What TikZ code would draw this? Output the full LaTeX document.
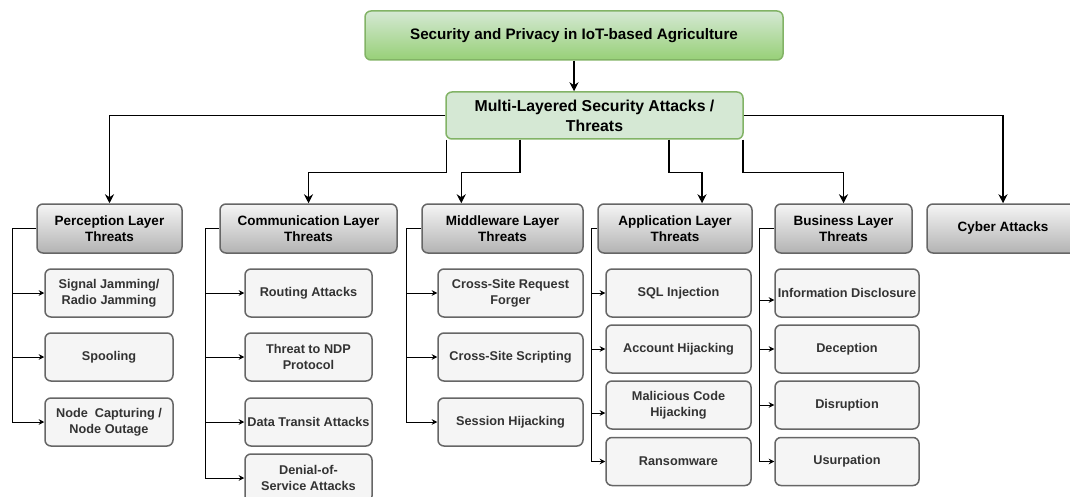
\documentclass[tikz,border=0pt]{standalone}
\usepackage{fontspec}
\setmainfont{Liberation Sans}
\usetikzlibrary{arrows.meta,calc}
\definecolor{gborder}{HTML}{82B366}
\definecolor{gfill}{HTML}{D5E8D4}
\definecolor{gdark}{HTML}{97D077}
\definecolor{kborder}{HTML}{666666}
\definecolor{kfill}{HTML}{F5F5F5}
\definecolor{kdark}{HTML}{B3B3B3}
\definecolor{ktext}{HTML}{333333}
\begin{document}
\begin{tikzpicture}[x=1pt,y=-1pt,
  base/.style={rounded corners=6pt, line width=1.5pt, align=center, inner sep=0pt},
  topbox/.style={base, draw=gborder, top color=gfill, bottom color=gdark,
     font=\fontsize{15.2}{19}\selectfont\bfseries, minimum width=418, minimum height=49},
  mlbox/.style={base, draw=gborder, fill=gfill,
     font=\fontsize{15.8}{20}\selectfont\bfseries, minimum width=297, minimum height=47},
  layerbox/.style={base, draw=kborder, top color=kfill, bottom color=kdark,
     font=\fontsize{13.5}{16.5}\selectfont\bfseries, minimum height=49},
  subbox/.style={base, draw=kborder, fill=kfill, text=ktext,
     font=\fontsize{12.7}{16}\selectfont\bfseries, minimum height=48},
  mainarrow/.style={line width=1.5pt, -{Stealth[length=9pt,width=9pt]}},
  subarrow/.style={line width=0.9pt, -{Stealth[length=5.5pt,width=5.5pt]}},
  subline/.style={line width=0.9pt}
]
\useasboundingbox (0,0) rectangle (1070,497);

% top
\node[topbox] (top) at (574,35.5) {Security and Privacy in IoT-based Agriculture};
\node[mlbox] (ml) at (594.5,115.5) {Multi-Layered Security Attacks /\\Threats};

% layers
\node[layerbox, minimum width=145] (per) at (109.5,228.5) {Perception Layer\\Threats};
\node[layerbox, minimum width=177] (com) at (308.5,228.5) {Communication Layer\\Threats};
\node[layerbox, minimum width=161] (mid) at (502.5,228.5) {Middleware Layer\\Threats};
\node[layerbox, minimum width=154] (app) at (675,228.5) {Application Layer\\Threats};
\node[layerbox, minimum width=137] (bus) at (843.5,228.5) {Business Layer\\Threats};
\node[layerbox, minimum width=152] (cyb) at (1003,228.5) {Cyber Attacks};

% perception subs
\node[subbox, minimum width=128] (p1) at (109,293) {Signal Jamming/\\Radio Jamming};
\node[subbox, minimum width=128] (p2) at (109,357) {Spooling};
\node[subbox, minimum width=128] (p3) at (109,422) {Node\ \ Capturing /\\Node Outage};

% communication subs
\node[subbox, minimum width=127] (c1) at (308.5,293) {Routing Attacks};
\node[subbox, minimum width=127] (c2) at (308.5,357) {Threat to NDP\\Protocol};
\node[subbox, minimum width=127] (c3) at (308.5,422) {Data Transit Attacks};
\node[subbox, minimum width=127] (c4) at (308.5,478) {Denial-of-\\Service Attacks};

% middleware subs
\node[subbox, minimum width=145] (m1) at (510.5,293) {Cross-Site Request\\Forger};
\node[subbox, minimum width=145] (m2) at (510.5,357) {Cross-Site Scripting};
\node[subbox, minimum width=145] (m3) at (510.5,422) {Session Hijacking};

% application subs
\node[subbox, minimum width=145] (a1) at (678.5,293) {SQL Injection};
\node[subbox, minimum width=145] (a2) at (678.5,349) {Account Hijacking};
\node[subbox, minimum width=145] (a3) at (678.5,405) {Malicious Code\\Hijacking};
\node[subbox, minimum width=145] (a4) at (678.5,461.5) {Ransomware};

% business subs
\node[subbox, minimum width=144] (b1) at (847,293) {Information Disclosure};
\node[subbox, minimum width=144] (b2) at (847,349) {Deception};
\node[subbox, minimum width=144] (b3) at (847,405) {Disruption};
\node[subbox, minimum width=144] (b4) at (847,461.5) {Usurpation};

% main connectors
\draw[mainarrow] (top.south) -- (top.south |- ml.north);
\draw[mainarrow] (ml.west) -| (per.north);
\draw[mainarrow] (ml.east) -| (cyb.north);
\draw[mainarrow] ($(ml.south west)+(1,0)$) -- ++(0,33) -| (com.north);
\draw[mainarrow] ($(ml.south)+(-74.5,0)$) -- ++(0,33) -| ($(mid.north west)+(40,0)$);
\draw[mainarrow] ($(ml.south)+(74.5,0)$) -- ++(0,33) -| ($(app.north)+(27,0)$);
\draw[mainarrow] ($(ml.south east)+(-1,0)$) -- ++(0,33) -| (bus.north);

% trunk points
\coordinate (tp) at (12,228.5);
\coordinate (tc) at (205,228.5);
\coordinate (tm) at (406,228.5);
\coordinate (ta) at (591,228.5);
\coordinate (tb) at (759,228.5);

% perception
\draw[subline] (per.west) -- (tp);
\draw[subarrow] (tp) |- (p1.west);
\draw[subarrow] (tp) |- (p2.west);
\draw[subarrow] (tp) |- (p3.west);
% communication
\draw[subline] (com.west) -- (tc);
\draw[subarrow] (tc) |- (c1.west);
\draw[subarrow] (tc) |- (c2.west);
\draw[subarrow] (tc) |- (c3.west);
\draw[subarrow] (tc) |- (c4.west);
% middleware
\draw[subline] (mid.west) -- (tm);
\draw[subarrow] (tm) |- (m1.west);
\draw[subarrow] (tm) |- (m2.west);
\draw[subarrow] (tm) |- (m3.west);
% application
\draw[subline] (app.west) -- (ta);
\draw[subarrow] (ta) |- (a1.west);
\draw[subarrow] (ta) |- (a2.west);
\draw[subarrow] (ta) |- ($(a3.west)+(0,8)$);
\draw[subarrow] (ta) |- (a4.west);
% business
\draw[subline] (bus.west) -- (tb);
\draw[subarrow] (tb) |- ($(b1.west)+(0,7)$);
\draw[subarrow] (tb) |- (b2.west);
\draw[subarrow] (tb) |- (b3.west);
\draw[subarrow] (tb) |- (b4.west);
\end{tikzpicture}
\end{document}
